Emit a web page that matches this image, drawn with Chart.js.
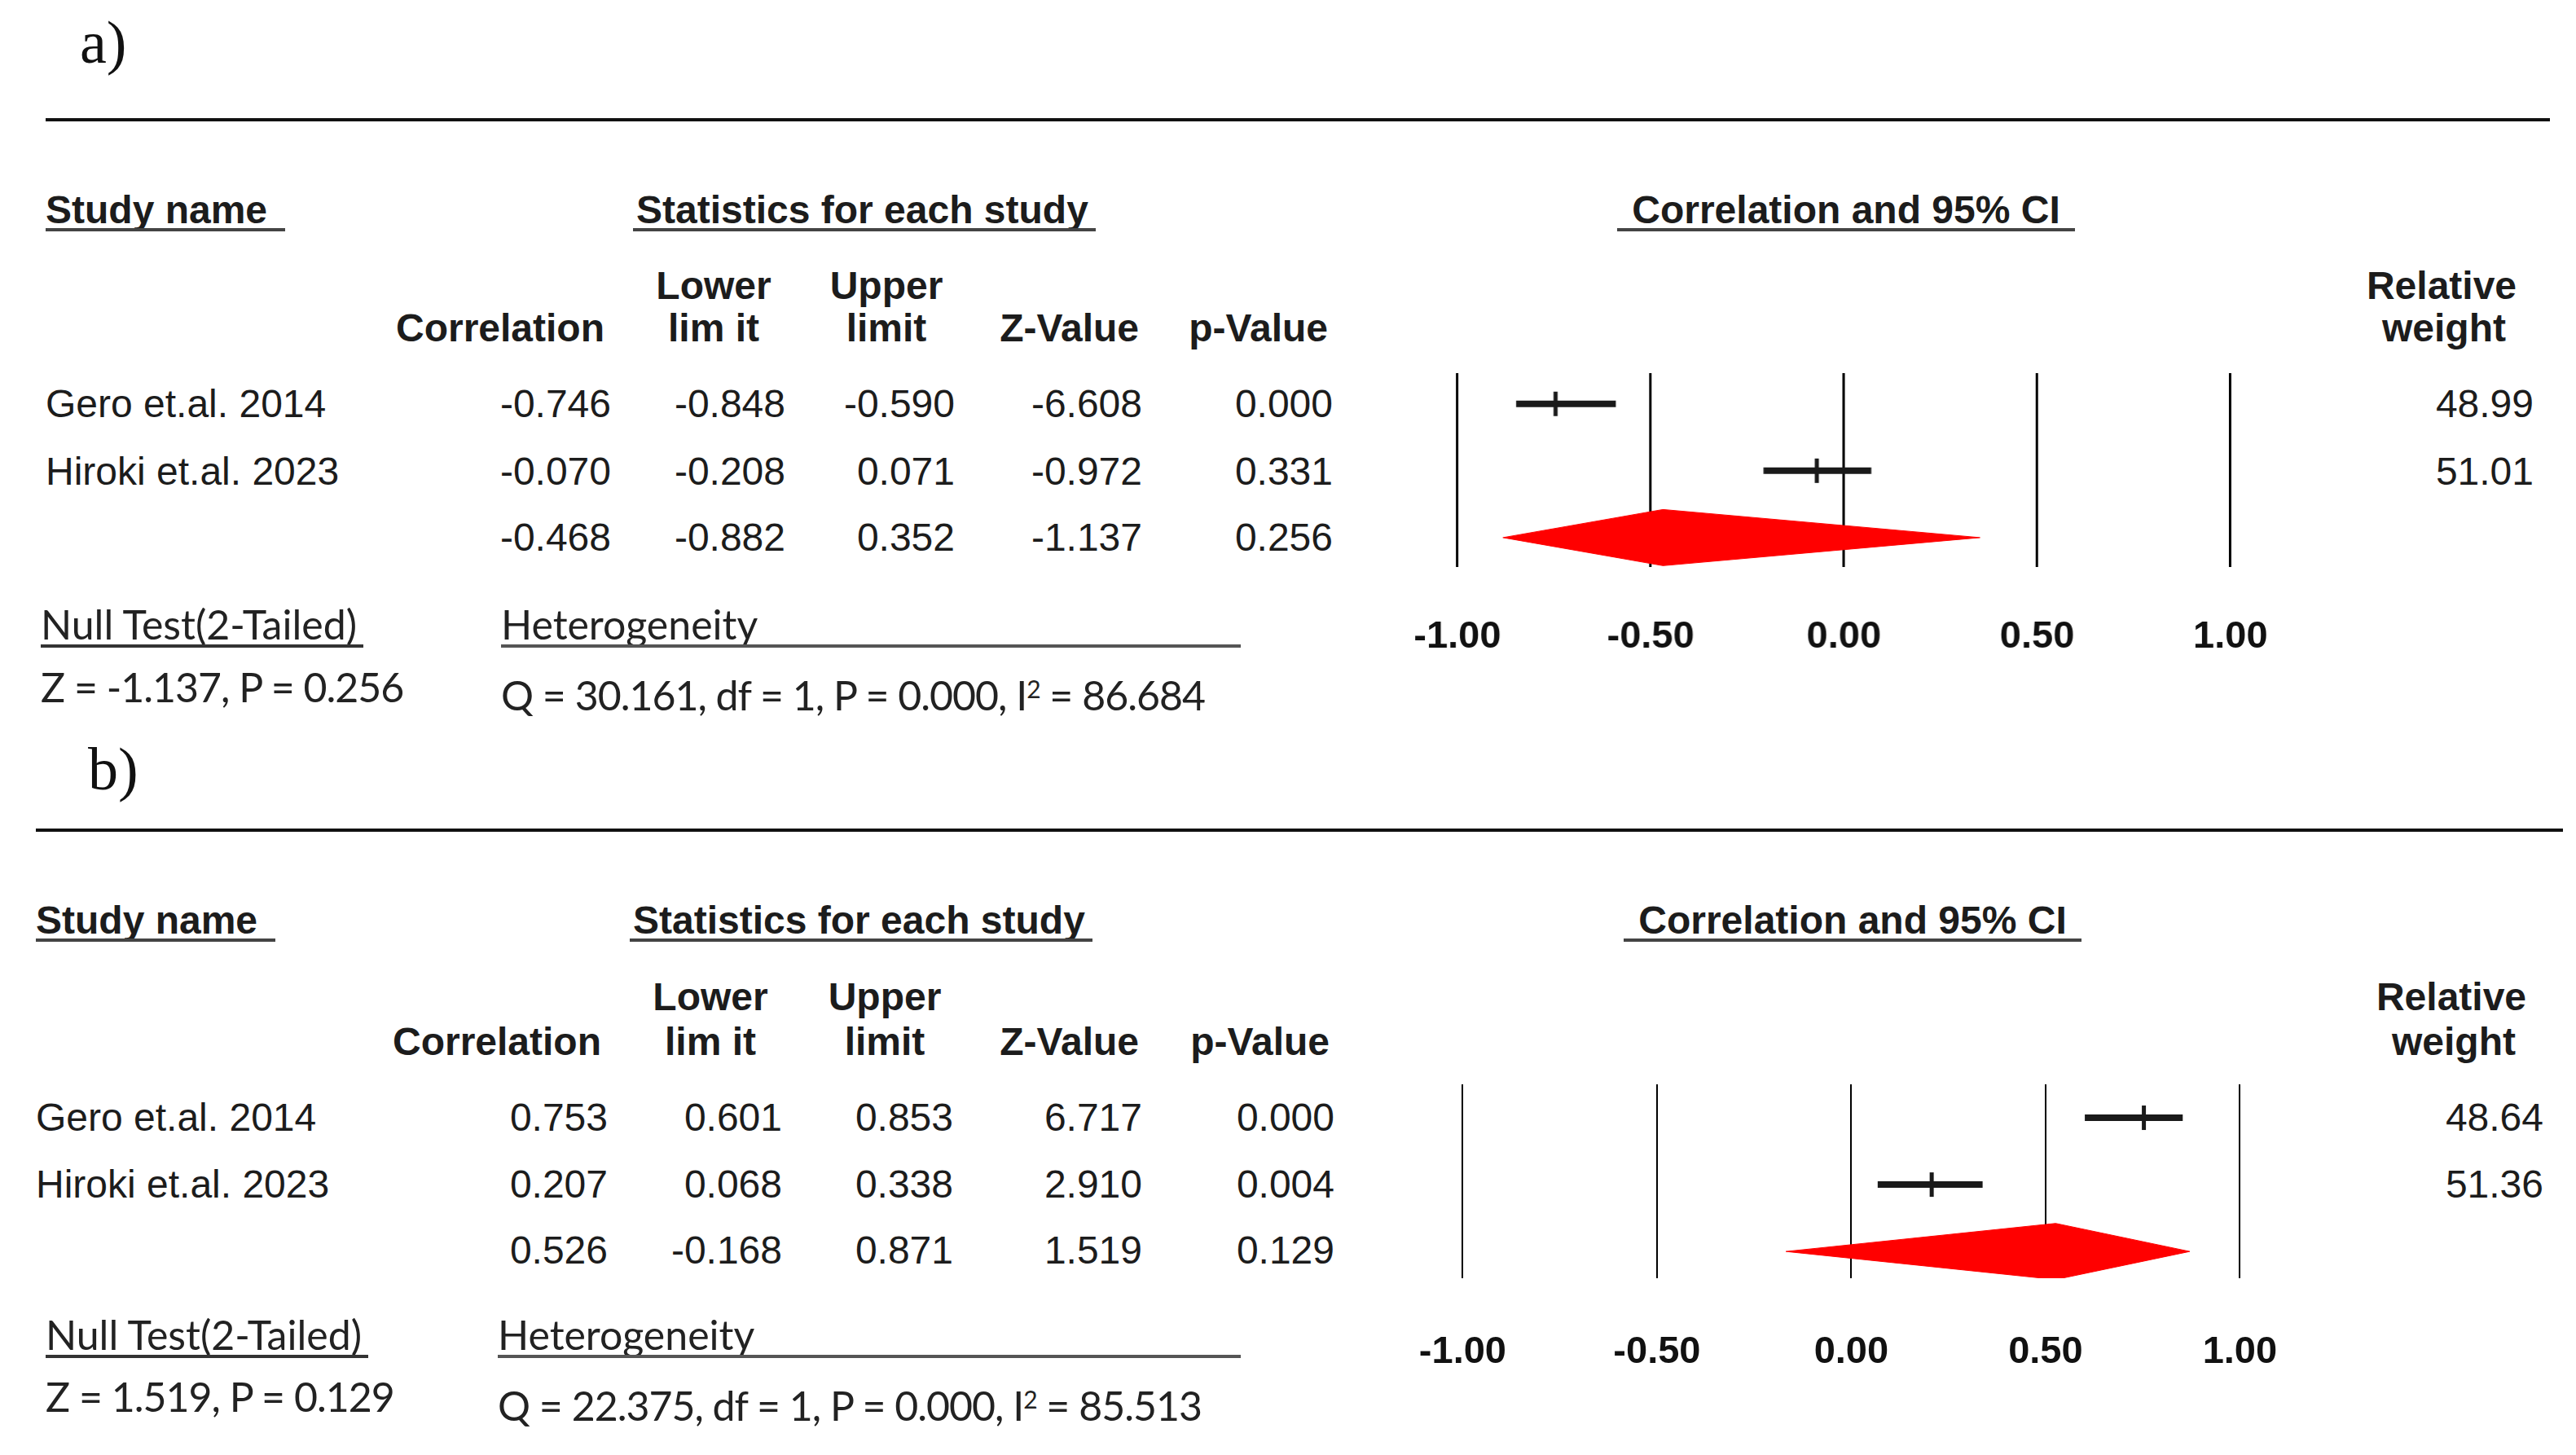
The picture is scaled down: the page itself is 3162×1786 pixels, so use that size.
<!DOCTYPE html>
<html>
<head>
<meta charset="utf-8">
<script src="https://cdn.jsdelivr.net/npm/chart.js@4.4.1/dist/chart.umd.min.js"></script>
<style>
html, body { margin: 0; padding: 0; background: #fff; }
#page { position: relative; width: 3162px; height: 1786px; overflow: hidden; background: #fff; }
.t { position: absolute; white-space: nowrap; font-family: "Liberation Sans", Arial, sans-serif;
     font-size: 48px; line-height: 48px; color: #1c1c1c; }
.b { font-weight: bold; }
.c { font-family: Lato, "Open Sans", sans-serif; font-size: 50px; line-height: 50px; color: #222; }
.v { letter-spacing: -1px; }
.s { font-family: "Liberation Serif", "Times New Roman", serif; font-size: 74px; line-height: 74px; color: #111; }
.c sup { font-size: 60%; line-height: 0; vertical-align: 0.5em; }
.rule { position: absolute; background: #111; }
.plot { position: absolute; }
</style>
</head>
<body>
<div id="page"></div>
<script>
// study labels
var studies = ['Gero et.al. 2014', 'Hiroki et.al. 2023'];

// panel a
var corrA = [-0.746, -0.070];
var lowerA = [-0.848, -0.208];
var upperA = [-0.590, 0.071];
var zA = [-6.608, -0.972];
var pA = [0.000, 0.331];
var weightA = [48.99, 51.01];
var pooledA = [-0.468, -0.882, 0.352, -1.137, 0.256];   // corr, lower, upper, z, p
var nullA = 'Z = -1.137, P = 0.256';
var hetA = 'Q = 30.161, df = 1, P = 0.000, I<sup>2</sup> = 86.684';

// panel b
var corrB = [0.753, 0.207];
var lowerB = [0.601, 0.068];
var upperB = [0.853, 0.338];
var zB = [6.717, 2.910];
var pB = [0.000, 0.004];
var weightB = [48.64, 51.36];
var pooledB = [0.526, -0.168, 0.871, 1.519, 0.129];
var nullB = 'Z = 1.519, P = 0.129';
var hetB = 'Q = 22.375, df = 1, P = 0.000, I<sup>2</sup> = 85.513';

var xTicks = [-1, -0.5, 0, 0.5, 1];

var page = document.getElementById('page');

function text(str, x, y, align, cls) {
	var d = document.createElement('div');
	d.className = 't ' + (cls || '');
	d.innerHTML = str;
	d.style.left = x + 'px';
	d.style.top = y + 'px';
	var tx = align === 'right' ? '-100%' : (align === 'center' ? '-50%' : '0');
	d.style.transform = 'translate(' + tx + ',-50%)';
	page.appendChild(d);
}

function rule(x1, x2, y, h, color) {
	var d = document.createElement('div');
	d.className = 'rule';
	d.style.left = x1 + 'px';
	d.style.width = (x2 - x1) + 'px';
	d.style.top = (y - h / 2) + 'px';
	d.style.height = h + 'px';
	if (color) d.style.background = color;
	page.appendChild(d);
}

function forest(L, corr, lower, upper, pooled) {
	var axisH = L.pad + 60;
	var box = document.createElement('div');
	box.className = 'plot';
	// x scale runs -1.2..1.2 so the canvas is 2.4 units wide
	box.style.left = (L.x0 - 0.2 * L.unit) + 'px';
	box.style.width = (2.4 * L.unit) + 'px';
	box.style.top = L.top + 'px';
	box.style.height = (L.bottom - L.top + axisH) + 'px';
	var cv = document.createElement('canvas');
	box.appendChild(cv);
	page.appendChild(box);

	var datasets = [];
	for (var i = 0; i < corr.length; i++) {
		datasets.push({
			type: 'line',
			data: [{x: lower[i], y: i}, {x: upper[i], y: i}],
			borderColor: '#1a1a1a',
			borderWidth: 8,
			pointRadius: 0
		});
	}
	datasets.push({
		type: 'scatter',
		data: corr.map(function(c, i) { return {x: c, y: i}; }),
		pointStyle: 'line',
		rotation: 90,
		radius: 15,
		borderWidth: 5,
		borderColor: '#1a1a1a'
	});
	var k = corr.length, h = 0.42;
	datasets.push({
		type: 'line',
		data: [
			{x: pooled[1], y: k}, {x: pooled[0], y: k - h},
			{x: pooled[2], y: k}, {x: pooled[0], y: k + h},
			{x: pooled[1], y: k}
		],
		fill: 'shape',
		backgroundColor: '#ff0000',
		borderColor: '#ff0000',
		borderWidth: 1,
		pointRadius: 0,
		tension: 0
	});

	new Chart(cv, {
		type: 'scatter',
		data: { datasets: datasets },
		options: {
			responsive: true,
			maintainAspectRatio: false,
			animation: false,
			events: [],
			layout: { padding: 0, autoPadding: false },
			plugins: { legend: { display: false }, tooltip: { enabled: false } },
			scales: {
				x: {
					type: 'linear',
					min: -1.2,
					max: 1.2,
					afterBuildTicks: function(s) {
						s.ticks = xTicks.map(function(v) { return {value: v}; });
					},
					afterFit: function(s) {
						s.height = axisH;
						s.paddingLeft = 0;
						s.paddingRight = 0;
					},
					ticks: {
						callback: function(v) { return Number(v).toFixed(2); },
						font: { family: 'Liberation Sans', size: 47, weight: 'bold' },
						color: '#111',
						padding: L.pad,
						maxRotation: 0,
						autoSkip: false
					},
					grid: { color: '#000', lineWidth: L.gridW, drawTicks: false },
					border: { display: false }
				},
				y: {
					type: 'linear',
					reverse: true,
					min: L.ymin,
					max: L.ymax,
					display: false
				}
			}
		}
	});
}

function panel(L, corr, lower, upper, z, p, weight, pooled, nullTxt, hetTxt) {
	text(L.tag, L.tagX, L.tagY, 'left', 's');
	rule(L.ruleX1, L.ruleX2, L.ruleY, 4);

	// column headings
	text('Study name', L.nameX, L.head, 'left', 'b');
	rule(L.nameX, L.nameX + 294, L.head + 24, 4, '#444');
	text('Statistics for each study', L.statX + 4, L.head, 'left', 'b');
	rule(L.statX, L.statX + 568, L.head + 24, 4, '#444');
	text('Correlation and 95% CI', L.ciX, L.head, 'center', 'b');
	rule(L.ciX - 281, L.ciX + 281, L.head + 24, 4, '#444');

	text('Correlation', L.col[0] - 8, L.h2, 'right', 'b');
	text('Lower', L.col[1] - 88, L.h1, 'center', 'b');
	text('lim it', L.col[1] - 88, L.h2, 'center', 'b');
	text('Upper', L.col[2] - 84, L.h1, 'center', 'b');
	text('limit', L.col[2] - 84, L.h2, 'center', 'b');
	text('Z-Value', L.col[3] - 4, L.h2, 'right', 'b');
	text('p-Value', L.col[4] - 6, L.h2, 'right', 'b');
	text('Relative', L.wX, L.h1, 'center', 'b');
	text('weight', L.wX + 3, L.h2, 'center', 'b');

	// study rows
	for (var i = 0; i < studies.length; i++) {
		var y = L.rows[i];
		text(studies[i], L.nameX, y, 'left');
		var vals = [corr[i], lower[i], upper[i], z[i], p[i]];
		for (var j = 0; j < vals.length; j++) {
			text(vals[j].toFixed(3), L.col[j], y, 'right');
		}
		text(weight[i].toFixed(2), L.wR, y, 'right');
	}
	// pooled row
	for (var j = 0; j < pooled.length; j++) {
		text(pooled[j].toFixed(3), L.col[j], L.rows[2], 'right');
	}

	// footer
	text('Null Test(2-Tailed)', L.nullX, L.foot, 'left', 'c');
	rule(L.nullX, L.nullX + 396, L.foot + 27, 4, '#333');
	text(nullTxt, L.nullX, L.foot2, 'left', 'c v');
	text('Heterogeneity', L.hetX, L.foot, 'left', 'c');
	rule(L.hetX, 1523, L.foot + 27, 4, '#555');
	text(hetTxt, L.hetX, L.foot3, 'left', 'c v');

	forest(L.plot, corr, lower, upper, pooled);
}

var layoutA = {
	tag: 'a)', tagX: 98, tagY: 52,
	ruleX1: 56, ruleX2: 3130, ruleY: 147,
	nameX: 56, statX: 777, ciX: 2266, head: 258,
	h1: 351, h2: 403,
	col: [750, 964, 1172, 1402, 1636],
	wX: 2997, wR: 3110,
	rows: [496, 579, 660],
	nullX: 50, hetX: 615, foot: 766, foot2: 843, foot3: 853,
	plot: { x0: 1789, unit: 474, top: 458, bottom: 696, pad: 58, gridW: 3, ymin: -0.46, ymax: 2.44 }
};

var layoutB = {
	tag: 'b)', tagX: 108, tagY: 944,
	ruleX1: 44, ruleX2: 3146, ruleY: 1019,
	nameX: 44, statX: 773, ciX: 2274, head: 1130,
	h1: 1224, h2: 1279,
	col: [746, 960, 1170, 1402, 1638],
	wX: 3009, wR: 3122,
	rows: [1372, 1454, 1535],
	nullX: 56, hetX: 611, foot: 1638, foot2: 1714, foot3: 1725,
	plot: { x0: 1795, unit: 477, top: 1331, bottom: 1569, pad: 63, gridW: 2, ymin: -0.5, ymax: 2.4 }
};

panel(layoutA, corrA, lowerA, upperA, zA, pA, weightA, pooledA, nullA, hetA);
panel(layoutB, corrB, lowerB, upperB, zB, pB, weightB, pooledB, nullB, hetB);
</script>
</body>
</html>
